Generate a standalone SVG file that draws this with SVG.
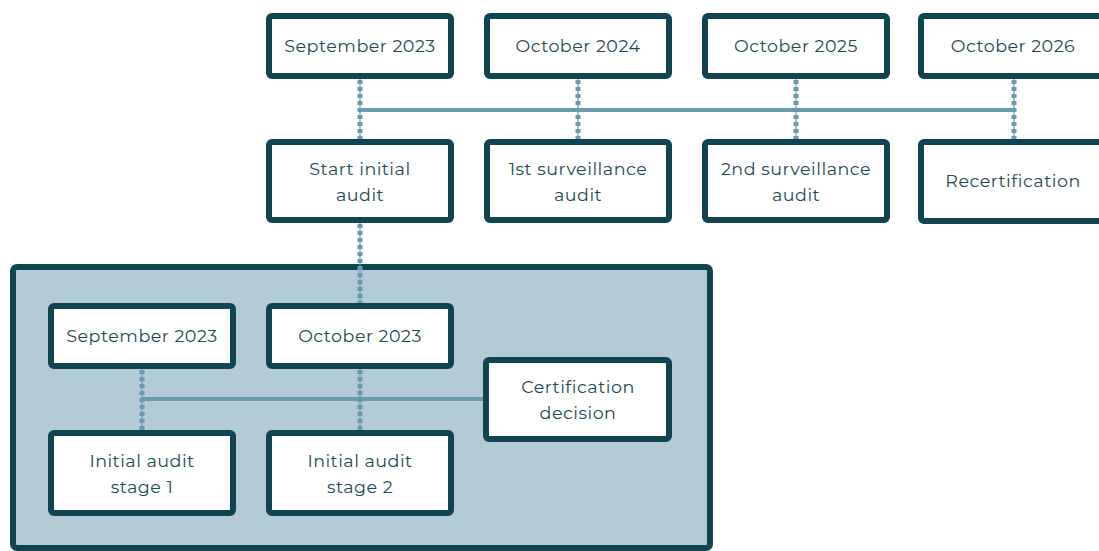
<svg xmlns="http://www.w3.org/2000/svg" width="1099" height="551" viewBox="0 0 1099 551">
<style>
.box{fill:#ffffff;stroke:#0f4450;stroke-width:6}
.cont{fill:#b3cbd6;stroke:#0f4450;stroke-width:6}
.t{font-family:"Montserrat","Open Sans","Noto Sans",sans-serif;font-size:17.5px;letter-spacing:0.5px;fill:#1e4a54;text-anchor:middle}
.dotA{stroke:#6a9aab;stroke-width:1.2;fill:none}
.dotB{stroke:#6a9aab;stroke-width:5;stroke-dasharray:4 3;fill:none}
.hl{stroke:#6a9aab;stroke-width:4;fill:none}
</style>
<rect width="1099" height="551" fill="#ffffff"/>
<g id="container">
<rect class="cont" x="13" y="267" width="697" height="281" rx="4"/>
</g>
<g id="connectors">
<line class="hl" x1="360" y1="110" x2="1014" y2="110"/>
<line class="hl" x1="142" y1="399" x2="485" y2="399"/>
<g>
<line class="dotA" x1="360" y1="78" x2="360" y2="141"/>
<line class="dotB" x1="360" y1="80" x2="360" y2="141"/>
<line class="dotA" x1="578" y1="78" x2="578" y2="141"/>
<line class="dotB" x1="578" y1="80" x2="578" y2="141"/>
<line class="dotA" x1="796" y1="78" x2="796" y2="141"/>
<line class="dotB" x1="796" y1="80" x2="796" y2="141"/>
<line class="dotA" x1="1014" y1="78" x2="1014" y2="141"/>
<line class="dotB" x1="1014" y1="80" x2="1014" y2="141"/>
<line class="dotA" x1="360" y1="222" x2="360" y2="305"/>
<line class="dotB" x1="360" y1="224" x2="360" y2="305"/>
<line class="dotA" x1="360" y1="368" x2="360" y2="432"/>
<line class="dotB" x1="360" y1="370" x2="360" y2="432"/>
<line class="dotA" x1="142" y1="368" x2="142" y2="432"/>
<line class="dotB" x1="142" y1="370" x2="142" y2="432"/>
</g>
</g>
<g id="n-sep2023">
<rect class="box" x="269" y="16" width="182" height="60" rx="3"/>
<text class="t" x="360" y="52">September 2023</text>
</g>
<g id="n-oct2024">
<rect class="box" x="487" y="16" width="182" height="60" rx="3"/>
<text class="t" x="578" y="52">October 2024</text>
</g>
<g id="n-oct2025">
<rect class="box" x="705" y="16" width="182" height="60" rx="3"/>
<text class="t" x="796" y="52">October 2025</text>
</g>
<g id="n-oct2026">
<rect class="box" x="921" y="16" width="190" height="60" rx="3"/>
<text class="t" x="1013" y="52">October 2026</text>
</g>
<g id="n-start">
<rect class="box" x="269" y="142" width="182" height="78" rx="3"/>
<text class="t" x="360" y="175">Start initial</text>
<text class="t" x="360" y="201">audit</text>
</g>
<g id="n-surv1">
<rect class="box" x="487" y="142" width="182" height="78" rx="3"/>
<text class="t" x="578" y="175">1st surveillance</text>
<text class="t" x="578" y="201">audit</text>
</g>
<g id="n-surv2">
<rect class="box" x="705" y="142" width="182" height="78" rx="3"/>
<text class="t" x="796" y="175">2nd surveillance</text>
<text class="t" x="796" y="201">audit</text>
</g>
<g id="n-recert">
<rect class="box" x="921" y="142" width="190" height="79" rx="3"/>
<text class="t" x="1013" y="187">Recertification</text>
</g>
<g id="n-sep2023b">
<rect class="box" x="51" y="306" width="182" height="60" rx="3"/>
<text class="t" x="142" y="342">September 2023</text>
</g>
<g id="n-oct2023">
<rect class="box" x="269" y="306" width="182" height="60" rx="3"/>
<text class="t" x="360" y="342">October 2023</text>
</g>
<g id="n-certdec">
<rect class="box" x="486" y="360" width="183" height="79" rx="3"/>
<text class="t" x="578" y="393">Certification</text>
<text class="t" x="578" y="419">decision</text>
</g>
<g id="n-stage1">
<rect class="box" x="51" y="433" width="182" height="80" rx="3"/>
<text class="t" x="142" y="467">Initial audit</text>
<text class="t" x="142" y="493">stage 1</text>
</g>
<g id="n-stage2">
<rect class="box" x="269" y="433" width="182" height="80" rx="3"/>
<text class="t" x="360" y="467">Initial audit</text>
<text class="t" x="360" y="493">stage 2</text>
</g>
</svg>
